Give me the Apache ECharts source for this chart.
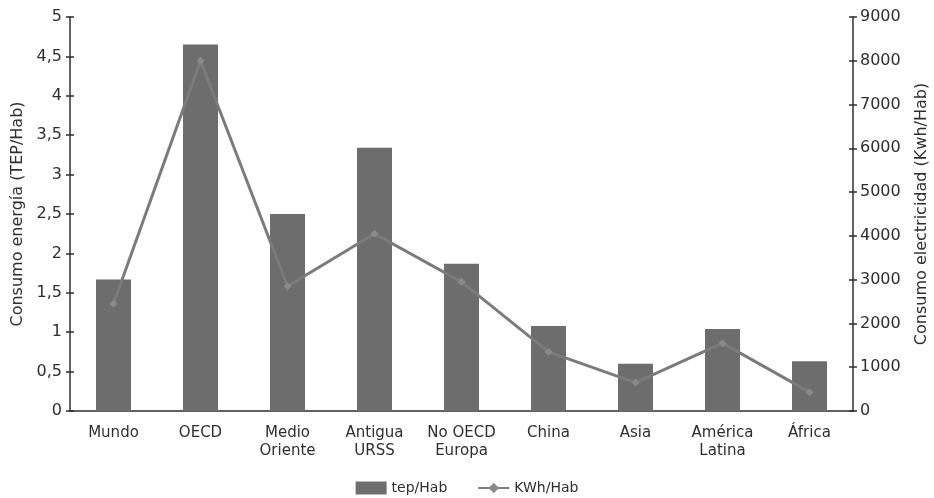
<!DOCTYPE html>
<html>
<head>
<meta charset="utf-8">
<script src="https://cdn.jsdelivr.net/npm/echarts@6/dist/echarts.min.js"></script>
<style>
  html, body { margin: 0; padding: 0; background: #fff; }
  #chart { width: 934px; height: 498px; }
</style>
</head>
<body>
<div id="chart"></div>
<script>
// Regions
const regions = ['Mundo', 'OECD', 'Medio\nOriente', 'Antigua\nURSS', 'No OECD\nEuropa', 'China', 'Asia', 'América\nLatina', 'África'];
// Energy use per inhabitant (tep/Hab)
const tepPerHab = [1.67, 4.65, 2.5, 3.34, 1.87, 1.08, 0.6, 1.04, 0.63];
// Electricity use per inhabitant (KWh/Hab)
const kwhPerHab = [2450, 8000, 2850, 4050, 2950, 1350, 650, 1550, 430];

const FONT = '"DejaVu Sans", Verdana, sans-serif';
const AXIS_COLOR = '#2e2e2e';
const TEXT_COLOR = '#2e2e2e';

const tickStyle = { color: AXIS_COLOR, width: 1.5 };

// Value axis with labels and outer tick halves
function valueAxis(opts) {
  return Object.assign({
    type: 'value',
    nameLocation: 'middle',
    nameTextStyle: { fontFamily: FONT, fontSize: 16, color: TEXT_COLOR },
    axisLine: { show: true, lineStyle: { color: AXIS_COLOR, width: 1.5 } },
    axisTick: { show: true, length: 4, lineStyle: tickStyle },
    splitLine: { show: false },
    axisLabel: { fontFamily: FONT, fontSize: 16, color: TEXT_COLOR, margin: 8 }
  }, opts);
}

// Companion axis that only draws the inner tick halves, so ticks cross the line
function innerTicks(min, max, interval, position) {
  return {
    type: 'value', min, max, interval, position,
    axisLine: { show: false },
    axisTick: { show: true, inside: true, length: 4, lineStyle: tickStyle },
    axisLabel: { show: false },
    splitLine: { show: false }
  };
}

const chart = echarts.init(document.getElementById('chart'));
chart.setOption({
  animation: false,
  backgroundColor: '#ffffff',
  textStyle: { fontFamily: FONT },
  grid: { left: 70, right: 81, top: 17, bottom: 87, containLabel: false, outerBoundsMode: 'none' },
  legend: {
    bottom: 3,
    left: 'center',
    padding: 0,
    itemGap: 30,
    itemWidth: 31,
    itemHeight: 13,
    textStyle: { fontFamily: FONT, fontSize: 14, color: TEXT_COLOR },
    data: [
      { name: 'tep/Hab', icon: 'rect' },
      { name: 'KWh/Hab' }
    ]
  },
  xAxis: [
    {
      type: 'category',
      data: regions,
      boundaryGap: true,
      axisLine: { lineStyle: { color: AXIS_COLOR, width: 1.5 } },
      axisTick: { alignWithLabel: false, length: 4, lineStyle: tickStyle },
      axisLabel: {
        interval: 0,
        margin: 13,
        fontFamily: FONT,
        fontSize: 15,
        lineHeight: 18,
        color: TEXT_COLOR
      }
    },
    {
      type: 'category',
      data: regions,
      position: 'bottom',
      boundaryGap: true,
      axisLine: { show: false },
      axisTick: { alignWithLabel: false, inside: true, length: 4, lineStyle: tickStyle },
      axisLabel: { show: false }
    }
  ],
  yAxis: [
    valueAxis({
      min: 0, max: 5, interval: 0.5,
      position: 'left',
      name: 'Consumo energía (TEP/Hab)',
      nameGap: 43,
      axisLabel: {
        fontFamily: FONT, fontSize: 16, color: TEXT_COLOR, margin: 8,
        formatter: v => String(v).replace('.', ',')
      }
    }),
    valueAxis({
      min: 0, max: 9000, interval: 1000,
      position: 'right',
      name: 'Consumo electricidad (Kwh/Hab)',
      nameGap: 61,
      nameRotate: 90,
      axisLabel: {
        fontFamily: FONT, fontSize: 16, color: TEXT_COLOR, margin: 7,
        formatter: v => String(v)
      }
    }),
    innerTicks(0, 5, 0.5, 'left'),
    innerTicks(0, 9000, 1000, 'right')
  ],
  series: [
    {
      name: 'tep/Hab',
      type: 'bar',
      xAxisIndex: 0,
      yAxisIndex: 0,
      data: tepPerHab,
      barWidth: 35,
      itemStyle: { color: '#6d6d6d' }
    },
    {
      name: 'KWh/Hab',
      type: 'line',
      xAxisIndex: 0,
      yAxisIndex: 1,
      data: kwhPerHab,
      symbol: 'diamond',
      symbolSize: 8,
      lineStyle: { color: '#7b7b7b', width: 3 },
      itemStyle: { color: '#8a8a8a' },
      z: 3
    }
  ]
});
</script>
</body>
</html>
